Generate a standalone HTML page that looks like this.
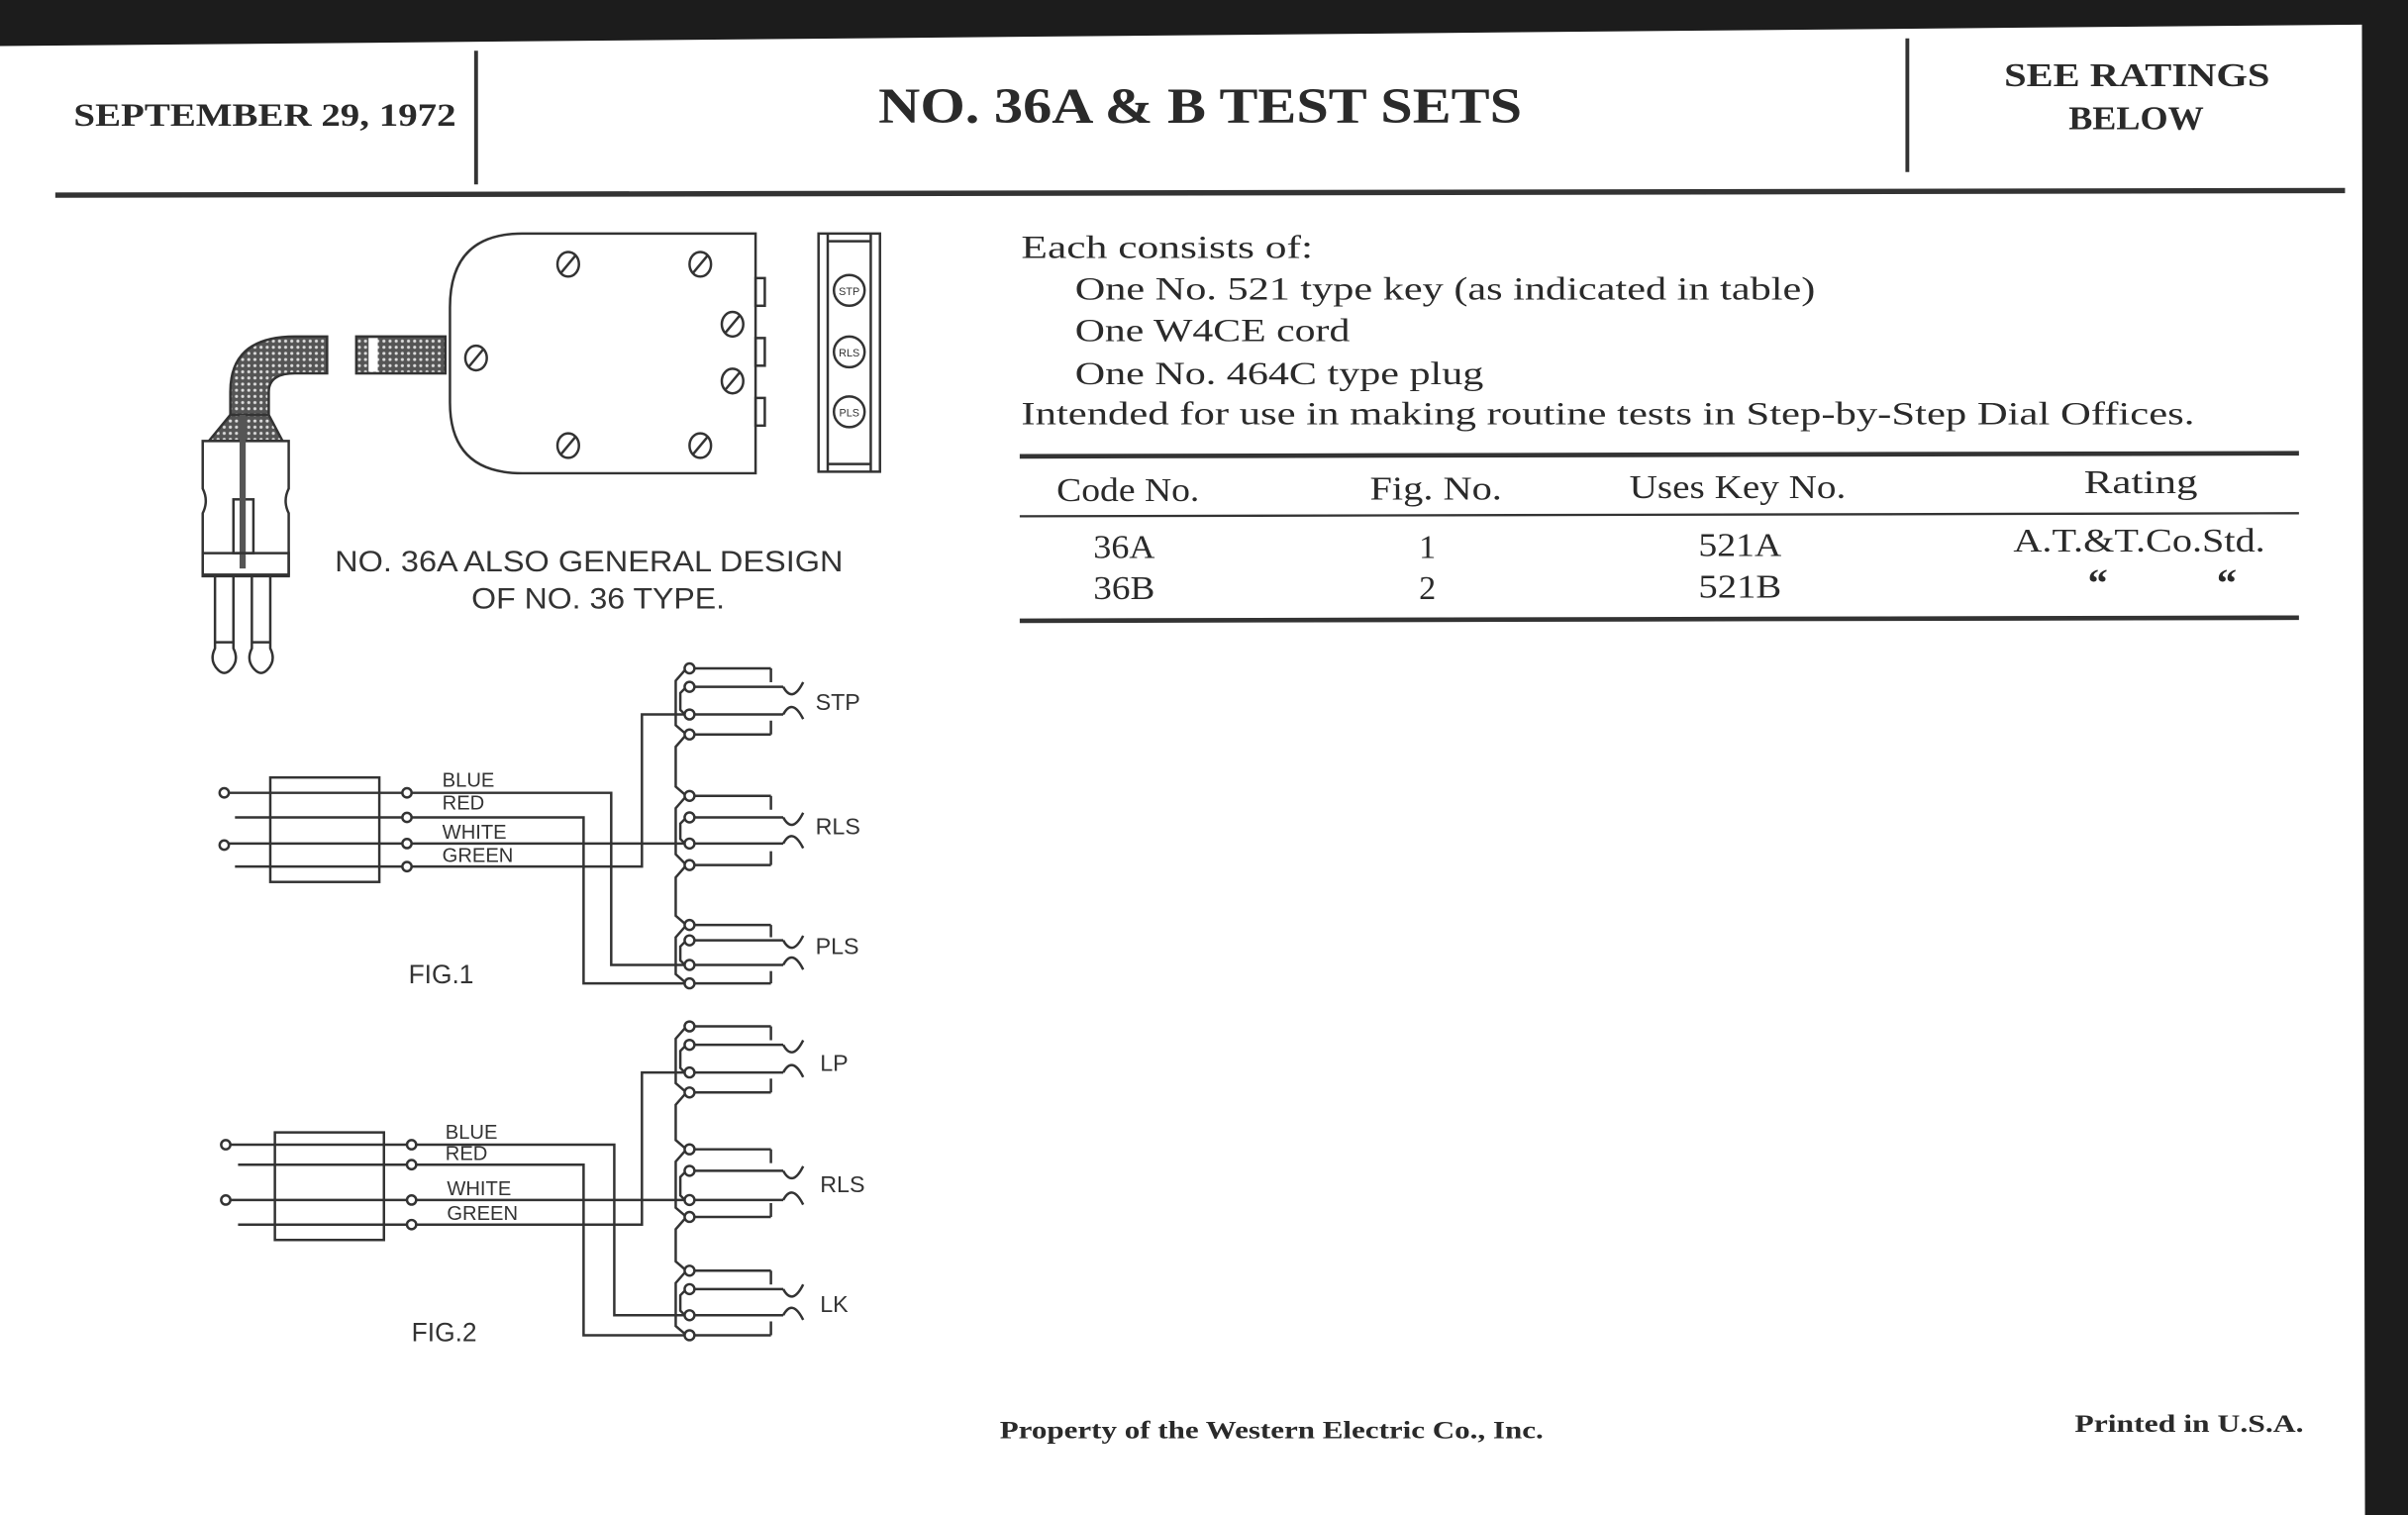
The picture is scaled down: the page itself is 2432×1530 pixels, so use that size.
<!DOCTYPE html>
<html><head><meta charset="utf-8"><style>
html,body{margin:0;padding:0;background:#fff;width:2432px;height:1530px;overflow:hidden}
svg{display:block}
.s{font-family:"Liberation Serif",serif;fill:#2a2a2a}
.b{font-weight:bold}
.a{font-family:"Liberation Sans",sans-serif;fill:#333}
</style></head><body>
<svg width="2432" height="1530" viewBox="0 0 1568 986" preserveAspectRatio="none" xmlns="http://www.w3.org/2000/svg">
<rect width="1568" height="986" fill="#fff"/>
<polygon points="0,0 1568,0 1568,986 1540,986 1538,16 0,30" fill="#1c1c1c"/>

<!-- header -->
<g stroke="#333" fill="none">
<line x1="36" y1="127" x2="1527" y2="124" stroke-width="3.5"/>
<line x1="310" y1="33" x2="310" y2="120" stroke-width="2.5"/>
<line x1="1242" y1="25" x2="1242" y2="112" stroke-width="2.5"/>
</g>
<text class="s b" x="48" y="82" font-size="21" textLength="249" lengthAdjust="spacingAndGlyphs">SEPTEMBER 29, 1972</text>
<text class="s b" x="572" y="80" font-size="33" textLength="419" lengthAdjust="spacingAndGlyphs">NO. 36A &amp; B TEST SETS</text>
<text class="s b" x="1305" y="56" font-size="22" textLength="173" lengthAdjust="spacingAndGlyphs">SEE RATINGS</text>
<text class="s b" x="1347" y="84" font-size="22" textLength="88" lengthAdjust="spacingAndGlyphs">BELOW</text>

<!-- description -->
<g class="s" font-size="21">
<text x="665" y="168" textLength="190" lengthAdjust="spacingAndGlyphs">Each consists of:</text>
<text x="700" y="195" textLength="482" lengthAdjust="spacingAndGlyphs">One No. 521 type key (as indicated in table)</text>
<text x="700" y="222" textLength="179" lengthAdjust="spacingAndGlyphs">One W4CE cord</text>
<text x="700" y="250" textLength="266" lengthAdjust="spacingAndGlyphs">One No. 464C type plug</text>
<text x="665" y="276" textLength="764" lengthAdjust="spacingAndGlyphs">Intended for use in making routine tests in Step-by-Step Dial Offices.</text>
</g>
<!-- table -->
<g stroke="#333">
<line x1="664" y1="297" x2="1497" y2="295" stroke-width="3"/>
<line x1="664" y1="336" x2="1497" y2="334" stroke-width="1.5"/>
<line x1="664" y1="404" x2="1497" y2="402" stroke-width="3"/>
</g>
<g class="s" font-size="22">
<text x="688" y="326" textLength="93" lengthAdjust="spacingAndGlyphs">Code No.</text>
<text x="892" y="325" textLength="86" lengthAdjust="spacingAndGlyphs">Fig. No.</text>
<text x="1061" y="324" textLength="141" lengthAdjust="spacingAndGlyphs">Uses Key No.</text>
<text x="1357" y="321" textLength="74" lengthAdjust="spacingAndGlyphs">Rating</text>
<text x="712" y="363" textLength="40" lengthAdjust="spacingAndGlyphs">36A</text>
<text x="924" y="363">1</text>
<text x="1106" y="362" textLength="54" lengthAdjust="spacingAndGlyphs">521A</text>
<text x="1311" y="359" textLength="164" lengthAdjust="spacingAndGlyphs">A.T.&amp;T.Co.Std.</text>
<text x="712" y="390" textLength="40" lengthAdjust="spacingAndGlyphs">36B</text>
<text x="924" y="390">2</text>
<text x="1106" y="389" textLength="54" lengthAdjust="spacingAndGlyphs">521B</text>
</g>
<g class="s b" font-size="26" text-anchor="middle">
<text x="1366" y="388">“</text>
<text x="1450" y="388">“</text>
</g>

<!-- footer -->
<text class="s b" x="651" y="936" font-size="16" textLength="354" lengthAdjust="spacingAndGlyphs">Property of the Western Electric Co., Inc.</text>
<text class="s b" x="1351" y="932" font-size="16" textLength="149" lengthAdjust="spacingAndGlyphs">Printed in U.S.A.</text>

<!-- device drawing -->
<defs>
<pattern id="h" width="4" height="4" patternUnits="userSpaceOnUse">
<rect width="4" height="4" fill="#555"/><circle cx="2" cy="2" r="1" fill="#ddd"/>
</pattern>
</defs>
<g stroke="#333" stroke-width="1.6" fill="none">
<path d="M492,152 L340,152 Q293,152 293,200 L293,262 Q293,308 340,308 L492,308 Z"/>
<rect x="492" y="181" width="6" height="18"/>
<rect x="492" y="220" width="6" height="18"/>
<rect x="492" y="259" width="6" height="18"/>
<g>
<ellipse cx="370" cy="172" rx="7" ry="8"/><line x1="365" y1="178" x2="375" y2="166"/>
<ellipse cx="456" cy="172" rx="7" ry="8"/><line x1="451" y1="178" x2="461" y2="166"/>
<ellipse cx="477" cy="211" rx="7" ry="8"/><line x1="472" y1="217" x2="482" y2="205"/>
<ellipse cx="477" cy="248" rx="7" ry="8"/><line x1="472" y1="254" x2="482" y2="242"/>
<ellipse cx="370" cy="290" rx="7" ry="8"/><line x1="365" y1="296" x2="375" y2="284"/>
<ellipse cx="456" cy="290" rx="7" ry="8"/><line x1="451" y1="296" x2="461" y2="284"/>
<ellipse cx="310" cy="233" rx="7" ry="8"/><line x1="305" y1="239" x2="315" y2="227"/>
</g>
<!-- side view -->
<rect x="533" y="152" width="40" height="155"/>
<line x1="539" y1="152" x2="539" y2="307"/>
<line x1="567" y1="152" x2="567" y2="307"/>
<line x1="539" y1="157" x2="567" y2="157"/>
<line x1="539" y1="302" x2="567" y2="302"/>
<circle cx="553" cy="189" r="10"/><circle cx="553" cy="229" r="10"/><circle cx="553" cy="268" r="10"/>
<!-- cord -->
<rect x="232" y="219" width="58" height="24" fill="url(#h)"/>
<rect x="240" y="220" width="6" height="22" fill="#fff" stroke="none"/>
<path d="M213,219 L192,219 Q150,219 150,255 L150,270 L175,270 L175,255 Q175,243 192,243 L213,243 Z" fill="url(#h)"/>
<path d="M150,270 L136,287 L184,287 L175,270 Z" fill="url(#h)"/>
<path d="M132,287 L188,287 L188,318 Q184,326 188,334 L188,375 L132,375 L132,334 Q136,326 132,318 Z" fill="#fff"/>
<rect x="152" y="325" width="13" height="35"/>
<line x1="158" y1="270" x2="158" y2="370" stroke-width="4" stroke="#555"/>
<rect x="132" y="360" width="56" height="14"/>
<path d="M140,374 L140,422 Q136,430 142,436 Q146,440 150,436 Q156,430 152,422 L152,374"/>
<path d="M164,374 L164,422 Q160,430 166,436 Q170,440 174,436 Q180,430 176,422 L176,374"/>
<line x1="140" y1="418" x2="152" y2="418"/><line x1="164" y1="418" x2="176" y2="418"/>
</g>
<g class="a" font-size="7" text-anchor="middle">
<text x="553" y="192">STP</text><text x="553" y="232">RLS</text><text x="553" y="271">PLS</text>
</g>
<text class="a" x="218" y="372" font-size="19" textLength="331" lengthAdjust="spacingAndGlyphs">NO. 36A ALSO GENERAL DESIGN</text>
<text class="a" x="307" y="396" font-size="19" textLength="165" lengthAdjust="spacingAndGlyphs">OF NO. 36 TYPE.</text>

<!-- FIG 1 -->
<g stroke="#333" stroke-width="1.6" fill="none">
<rect x="176" y="506" width="71" height="68"/>
<line x1="149" y1="516" x2="262" y2="516"/>
<line x1="153" y1="532" x2="262" y2="532"/>
<line x1="149" y1="549" x2="262" y2="549"/>
<line x1="153" y1="564" x2="262" y2="564"/>
<circle cx="146" cy="516" r="3" fill="#fff"/><circle cx="146" cy="550" r="3" fill="#fff"/>
<circle cx="265" cy="516" r="3" fill="#fff"/><circle cx="265" cy="532" r="3" fill="#fff"/>
<circle cx="265" cy="549" r="3" fill="#fff"/><circle cx="265" cy="564" r="3" fill="#fff"/>
<polyline points="268,516 398,516 398,628 446,628"/>
<polyline points="268,532 380,532 380,640 446,640"/>
<polyline points="268,549 446,549"/>
<polyline points="268,564 418,564 418,465 446,465"/>
<polyline points="447,435 440,443 440,472 447,478 440,486 440,512 447,518 440,526 440,556 447,563 440,571 440,596 447,602 440,610 440,634 447,640"/>
<polyline points="447,447 443,451 443,462 446,465"/>
<polyline points="447,532 443,536 443,546 446,549"/>
<polyline points="447,612 443,616 443,625 446,628"/>
<g>
<line x1="452" y1="435" x2="502" y2="435"/><line x1="502" y1="435" x2="502" y2="444"/>
<line x1="452" y1="447" x2="510" y2="447"/><path d="M510,447 Q516,458 523,444"/>
<line x1="452" y1="465" x2="510" y2="465"/><path d="M510,465 Q516,454 523,468"/>
<line x1="452" y1="478" x2="502" y2="478"/><line x1="502" y1="478" x2="502" y2="469"/>
</g>
<g>
<line x1="452" y1="518" x2="502" y2="518"/><line x1="502" y1="518" x2="502" y2="527"/>
<line x1="452" y1="532" x2="510" y2="532"/><path d="M510,532 Q516,543 523,529"/>
<line x1="452" y1="549" x2="510" y2="549"/><path d="M510,549 Q516,538 523,552"/>
<line x1="452" y1="563" x2="502" y2="563"/><line x1="502" y1="563" x2="502" y2="554"/>
</g>
<g>
<line x1="452" y1="602" x2="502" y2="602"/><line x1="502" y1="602" x2="502" y2="610"/>
<line x1="452" y1="612" x2="510" y2="612"/><path d="M510,612 Q516,623 523,609"/>
<line x1="452" y1="628" x2="510" y2="628"/><path d="M510,628 Q516,617 523,631"/>
<line x1="452" y1="640" x2="502" y2="640"/><line x1="502" y1="640" x2="502" y2="632"/>
</g>
<g fill="#fff">
<circle cx="449" cy="435" r="3.2"/><circle cx="449" cy="447" r="3.2"/><circle cx="449" cy="465" r="3.2"/><circle cx="449" cy="478" r="3.2"/>
<circle cx="449" cy="518" r="3.2"/><circle cx="449" cy="532" r="3.2"/><circle cx="449" cy="549" r="3.2"/><circle cx="449" cy="563" r="3.2"/>
<circle cx="449" cy="602" r="3.2"/><circle cx="449" cy="612" r="3.2"/><circle cx="449" cy="628" r="3.2"/><circle cx="449" cy="640" r="3.2"/>
</g>
</g>
<g class="a" font-size="13">
<text x="288" y="512">BLUE</text><text x="288" y="527">RED</text><text x="288" y="546">WHITE</text><text x="288" y="561">GREEN</text>
</g>
<g class="a" font-size="15">
<text x="531" y="462">STP</text><text x="531" y="543">RLS</text><text x="531" y="621">PLS</text>
</g>
<text class="a" x="266" y="640" font-size="17">FIG.1</text>

<!-- FIG 2 -->
<g stroke="#333" stroke-width="1.6" fill="none">
<rect x="179" y="737" width="71" height="70"/>
<line x1="150" y1="745" x2="265" y2="745"/>
<line x1="155" y1="758" x2="265" y2="758"/>
<line x1="150" y1="781" x2="265" y2="781"/>
<line x1="155" y1="797" x2="265" y2="797"/>
<circle cx="147" cy="745" r="3" fill="#fff"/><circle cx="147" cy="781" r="3" fill="#fff"/>
<circle cx="268" cy="745" r="3" fill="#fff"/><circle cx="268" cy="758" r="3" fill="#fff"/>
<circle cx="268" cy="781" r="3" fill="#fff"/><circle cx="268" cy="797" r="3" fill="#fff"/>
<polyline points="271,745 400,745 400,856 446,856"/>
<polyline points="271,758 380,758 380,869 446,869"/>
<polyline points="271,781 446,781"/>
<polyline points="271,797 418,797 418,698 446,698"/>
<polyline points="447,668 440,676 440,705 447,711 440,719 440,742 447,748 440,756 440,786 447,792 440,800 440,821 447,827 440,835 440,863 447,869"/>
<polyline points="447,680 443,684 443,695 446,698"/>
<polyline points="447,762 443,766 443,778 446,781"/>
<polyline points="447,839 443,843 443,853 446,856"/>
<g>
<line x1="452" y1="668" x2="502" y2="668"/><line x1="502" y1="668" x2="502" y2="677"/>
<line x1="452" y1="680" x2="510" y2="680"/><path d="M510,680 Q516,691 523,677"/>
<line x1="452" y1="698" x2="510" y2="698"/><path d="M510,698 Q516,687 523,701"/>
<line x1="452" y1="711" x2="502" y2="711"/><line x1="502" y1="711" x2="502" y2="702"/>
</g>
<g>
<line x1="452" y1="748" x2="502" y2="748"/><line x1="502" y1="748" x2="502" y2="757"/>
<line x1="452" y1="762" x2="510" y2="762"/><path d="M510,762 Q516,773 523,759"/>
<line x1="452" y1="781" x2="510" y2="781"/><path d="M510,781 Q516,770 523,784"/>
<line x1="452" y1="792" x2="502" y2="792"/><line x1="502" y1="792" x2="502" y2="783"/>
</g>
<g>
<line x1="452" y1="827" x2="502" y2="827"/><line x1="502" y1="827" x2="502" y2="836"/>
<line x1="452" y1="839" x2="510" y2="839"/><path d="M510,839 Q516,850 523,836"/>
<line x1="452" y1="856" x2="510" y2="856"/><path d="M510,856 Q516,845 523,859"/>
<line x1="452" y1="869" x2="502" y2="869"/><line x1="502" y1="869" x2="502" y2="860"/>
</g>
<g fill="#fff">
<circle cx="449" cy="668" r="3.2"/><circle cx="449" cy="680" r="3.2"/><circle cx="449" cy="698" r="3.2"/><circle cx="449" cy="711" r="3.2"/>
<circle cx="449" cy="748" r="3.2"/><circle cx="449" cy="762" r="3.2"/><circle cx="449" cy="781" r="3.2"/><circle cx="449" cy="792" r="3.2"/>
<circle cx="449" cy="827" r="3.2"/><circle cx="449" cy="839" r="3.2"/><circle cx="449" cy="856" r="3.2"/><circle cx="449" cy="869" r="3.2"/>
</g>
</g>
<g class="a" font-size="13">
<text x="290" y="741">BLUE</text><text x="290" y="755">RED</text><text x="291" y="778">WHITE</text><text x="291" y="794">GREEN</text>
</g>
<g class="a" font-size="15">
<text x="534" y="697">LP</text><text x="534" y="776">RLS</text><text x="534" y="854">LK</text>
</g>
<text class="a" x="268" y="873" font-size="17">FIG.2</text>
</svg>
</body></html>
